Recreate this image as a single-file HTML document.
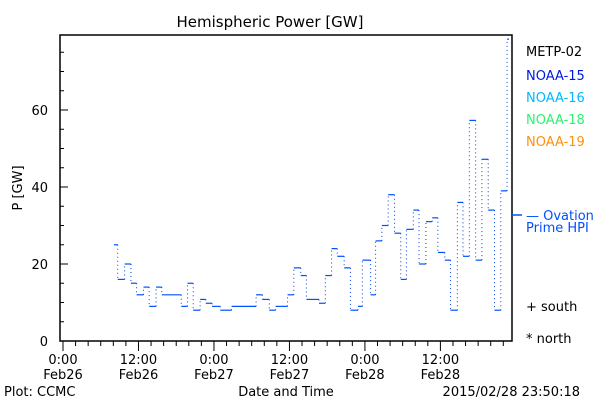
<!DOCTYPE html>
<html><head><meta charset="utf-8"><style>
body{margin:0;background:#fff}
svg{display:block;font-family:"DejaVu Sans","Liberation Sans",sans-serif}
text{font-size:13px}
</style></head><body>
<svg id="c" width="600" height="400">
<text x="270" y="27" text-anchor="middle" style="font-size:15px">Hemispheric Power [GW]</text>
<rect x="60" y="35" width="452" height="306" fill="none" stroke="#000" stroke-width="1.5"/>
<g id="axes"></g>
<g id="series"></g>
<text x="22" y="188" transform="rotate(-90 22 188)" text-anchor="middle">P [GW]</text>
<text x="286" y="396" text-anchor="middle">Date and Time</text>
<text x="4" y="396">Plot: CCMC</text>
<text x="580" y="396" text-anchor="end">2015/02/28 23:50:18</text>
<text x="526" y="56" fill="#000">METP-02</text>
<text x="526" y="80" fill="#0018e0">NOAA-15</text>
<text x="526" y="102" fill="#00b8ff">NOAA-16</text>
<text x="526" y="124" fill="#30f070">NOAA-18</text>
<text x="526" y="146" fill="#ff9010">NOAA-19</text>
<line x1="512" y1="215" x2="522" y2="215" stroke="#0050ff" stroke-width="1.5"/>
<text x="526" y="220" fill="#0050ff">— Ovation</text>
<text x="526" y="232" fill="#0050ff">Prime HPI</text>
<text x="526" y="311">+ south</text>
<text x="526" y="343">* north</text>
</svg>
<script>
const starts=[8.1,8.7,9.8,10.8,11.7,12.8,13.7,14.8,15.7,18.8,19.8,20.7,21.8,22.7,23.7,25.0,26.8,30.7,31.7,32.8,33.8,35.7,36.7,37.8,38.7,40.7,41.7,42.7,43.6,44.7,45.7,46.9,47.6,48.9,49.7,50.7,51.7,52.7,53.7,54.6,55.7,56.6,57.7,58.7,59.6,60.7,61.6,62.7,63.6,64.6,65.6,66.6,67.6,68.6,69.6,70.6];
const values=[25,16,20,15,12,14,9,14,12,9,15,8,10.8,9.8,9,8,9,12,10.8,8,9,12,19,17,10.8,9.8,17,24,22,19,8,9,21,12,26,30,38,28,16,29,34,20,31,32,23,21,8,36,22,57.3,21,47.2,34,8,39,78.4];
const endTime=70.9;
const xTicks=[0,12,24,36,48,60];
const xTickLabels=[["0:00","Feb26"],["12:00","Feb26"],["0:00","Feb27"],["12:00","Feb27"],["0:00","Feb28"],["12:00","Feb28"]];
const yTicks=[0,20,40,60];
const NS="http://www.w3.org/2000/svg";
const X=h=>63+h*6.29, Y=v=>341-v*3.85;
function mk(t,a,p){const e=document.createElementNS(NS,t);for(const k in a)e.setAttribute(k,a[k]);p.appendChild(e);return e;}
const ax=document.getElementById('axes');
for(let h=0;h<=70;h+=2){const maj=h%12===0;
const t=mk('line',{x1:X(h),x2:X(h),y1:341,y2:maj?351:346,stroke:'#000'},ax);

}
xTicks.forEach((h,i)=>{[0,1].forEach(j=>{const t=mk('text',{x:X(h),y:j?379:364,'text-anchor':'middle'},ax);t.textContent=xTickLabels[i][j];

});});
for(let v=0;v<=75;v+=5){const maj=v%20===0;
const t=mk('line',{x1:60,x2:maj?68:64,y1:Y(v),y2:Y(v),stroke:'#000'},ax);

}
yTicks.forEach(v=>{const t=mk('text',{x:48,y:Y(v)+5,'text-anchor':'end'},ax);t.textContent=v;

});
const s=document.getElementById('series');
starts.forEach((st,i)=>{const en=i<starts.length-1?starts[i+1]:endTime;
const l=mk('line',{x1:X(st),x2:X(en),y1:Y(values[i]),y2:Y(values[i]),stroke:'#0050ff','stroke-width':1.2},s);


if(i<starts.length-1){const d=mk('line',{x1:X(en),x2:X(en),y1:Y(values[i]),y2:Y(values[i+1]),stroke:'#0040e0','stroke-dasharray':'1 3'},s);

}});
</script>
</body></html>
